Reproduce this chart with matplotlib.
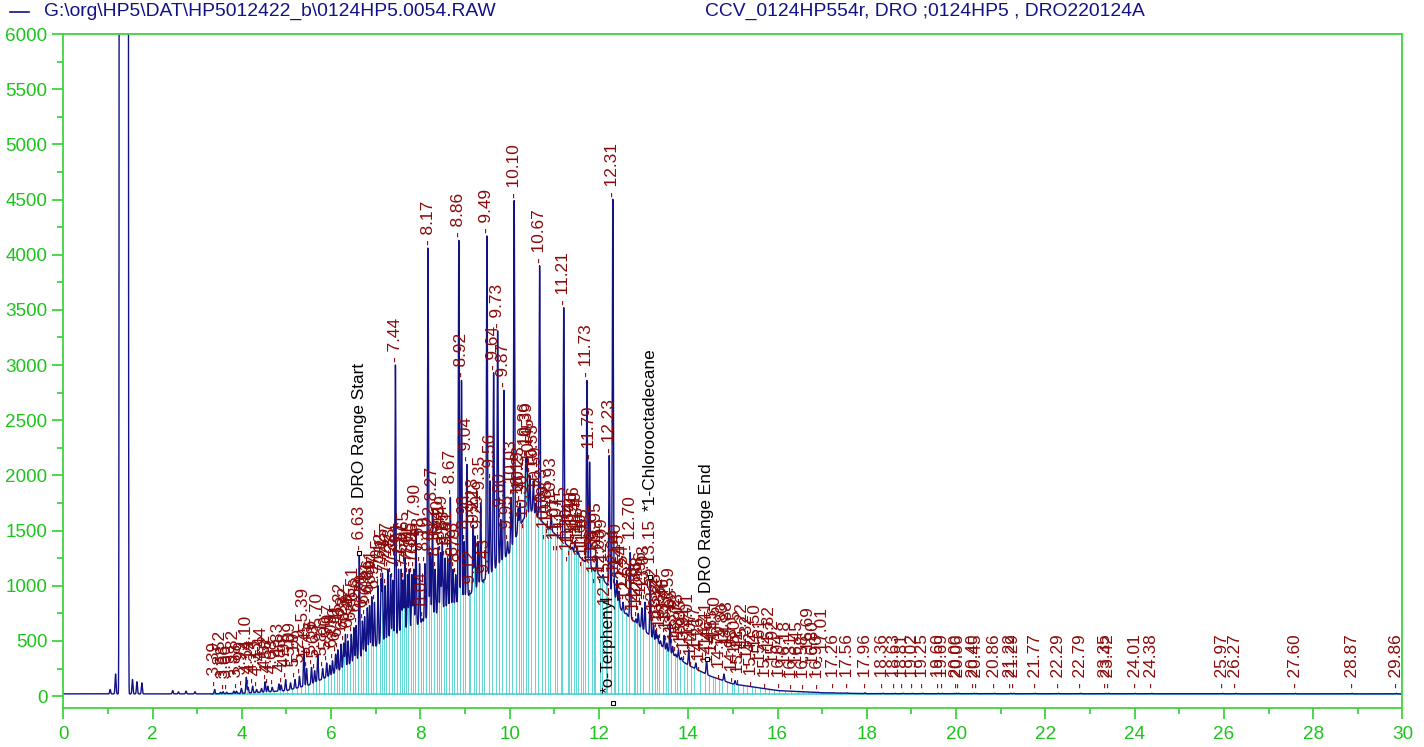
import numpy as np
import matplotlib
matplotlib.use("Agg")
import matplotlib.pyplot as plt
from matplotlib.ticker import MultipleLocator

plt.rcParams['font.family'] = ['Liberation Sans', 'DejaVu Sans']

# header texts
file_name = r"G:\org\HP5\DAT\HP5012422_b\0124HP5.0054.RAW"
sample_name = "CCV_0124HP554r, DRO ;0124HP5 , DRO220124A"

baseline_level = 20

# unresolved hump under the peaks (valley floor, absolute signal)
hump_t = [0.0, 3.3, 4.0, 5.0, 5.5, 6.0, 6.5, 7.0, 7.5, 8.0, 8.5, 9.0, 9.5, 10.0,
          10.3, 10.5, 10.8, 11.2, 11.6, 12.0, 12.3, 12.5, 13.0, 13.5, 14.0,
          14.5, 15.0, 16.0, 17.0, 18.0, 30.0]
hump_v = [20, 20, 25, 50, 100, 190, 310, 450, 560, 660, 780, 880, 1080, 1300,
          1600, 1680, 1550, 1400, 1250, 1100, 950, 780, 600, 420, 280,
          180, 110, 50, 30, 22, 20]

# solvent front, off scale
solvent_span = (1.25, 1.46)
solvent_height = 80000

# small unlabeled peaks before the integration window
early_rt = [1.05, 1.17, 1.55, 1.65, 1.76, 2.45, 2.58, 2.75, 2.95]
early_h = [60, 200, 150, 130, 120, 50, 38, 45, 40]

# integrated peaks: retention time (min) and apex height
peak_rt = [
    3.39, 3.52, 3.58, 3.66, 3.82, 3.88, 3.99, 4.10, 4.14, 4.24, 4.33, 4.44,
    4.52, 4.58, 4.68, 4.83, 4.88, 4.98, 5.09, 5.19, 5.29, 5.39, 5.45, 5.56,
    5.63, 5.70, 5.81, 5.90, 5.97, 6.03, 6.10, 6.15, 6.22, 6.28, 6.32, 6.38,
    6.45, 6.51, 6.56, 6.63, 6.70, 6.75, 6.81, 6.86, 6.91, 6.97, 7.05, 7.12,
    7.15, 7.21, 7.27, 7.33, 7.38, 7.44, 7.51, 7.57, 7.61, 7.65, 7.71, 7.75,
    7.81, 7.85, 7.90, 7.98, 8.04, 8.10, 8.17, 8.22, 8.27, 8.33, 8.40, 8.45,
    8.49, 8.55, 8.61, 8.67, 8.73, 8.79, 8.86, 8.92, 8.98, 9.04, 9.12, 9.18,
    9.22, 9.29, 9.35, 9.43, 9.49, 9.56, 9.64, 9.73, 9.80, 9.87, 9.95, 10.03,
    10.10, 10.19, 10.23, 10.30, 10.36, 10.39, 10.45, 10.53, 10.59, 10.67,
    10.73, 10.79, 10.85, 10.93, 11.01, 11.07, 11.15, 11.21, 11.30, 11.34,
    11.40, 11.46, 11.49, 11.54, 11.60, 11.65, 11.73, 11.79, 11.85, 11.89,
    11.95, 12.03, 12.09, 12.15, 12.23, 12.31, 12.34, 12.40, 12.45, 12.54,
    12.62, 12.70, 12.78, 12.83, 12.88, 12.96, 13.03, 13.15, 13.22, 13.28,
    13.32, 13.38, 13.46, 13.52, 13.59, 13.65, 13.72, 13.78, 13.85, 13.91,
    14.01, 14.07, 14.17, 14.26, 14.41, 14.46, 14.55, 14.60, 14.70, 14.80,
    14.88, 14.98, 15.05, 15.12, 15.22, 15.32, 15.42, 15.50, 15.61, 15.72,
    15.82, 15.92, 16.04, 16.18, 16.31, 16.45, 16.58, 16.69, 16.80, 16.90,
    17.01, 17.26, 17.56, 17.96, 18.36, 18.63, 18.81, 19.02, 19.25, 19.60,
    19.69, 20.00, 20.06, 20.40, 20.45, 20.86, 21.22, 21.29, 21.77, 22.29,
    22.79, 23.35, 23.42, 24.01, 24.38, 25.97, 26.27, 27.60, 28.87, 29.86,
]
peak_h = [
    60, 35, 40, 35, 45, 45, 70, 170, 80, 90, 60, 70,
    130, 90, 80, 110, 100, 150, 120, 150, 180, 430, 250, 260,
    230, 380, 250, 300, 280, 320, 380, 420, 470, 480, 560, 500,
    560, 620, 640, 1300, 680, 720, 800, 820, 900, 850, 1000, 1050,
    1100, 1000, 1150, 1100, 1050, 3000, 1150, 1150, 1050, 1250, 1100, 1150,
    1100, 1150, 1500, 1200, 700, 1200, 4060, 1300, 1650, 1150, 1350, 1300,
    1400, 1250, 1250, 1800, 1150, 1100, 4130, 2860, 1400, 2100, 900, 1550,
    1450, 1400, 1750, 1000, 4170, 1950, 2930, 3310, 1600, 2770, 1400, 1800,
    4490, 1700, 1750, 1500, 2150, 2150, 2000, 1950, 1750, 3900,
    1550, 1400, 1450, 1650, 1300, 1300, 1400, 3520, 1200, 1250,
    1350, 1400, 1350, 1300, 1150, 1200, 2860, 2120, 1100, 1000,
    1250, 1000, 1100, 700, 2180, 4500, 1000, 1050, 950, 850,
    750, 1300, 650, 700, 750, 800, 850, 1080, 650, 600,
    550, 500, 550, 480, 650, 450, 380, 420, 350, 300,
    420, 250, 300, 200, 340, 170, 150, 140, 130, 200,
    90, 100, 140, 80, 70, 90, 60, 60, 55, 50,
    50, 45, 45, 40, 40, 40, 35, 35, 35, 35,
    30, 30, 30, 30, 25, 25, 25, 25, 25, 25,
    25, 25, 25, 25, 25, 25, 25, 25, 25, 25,
    25, 25, 25, 25, 25, 25, 25, 25, 25, 25,
]

# named compounds
compound_names = ["DRO Range Start", "*1-Chlorooctadecane", "DRO Range End"]
compound_rt = [6.63, 13.15, 14.41]
surrogate_name = "*o-Terphenyl"
surrogate_rt = 12.31

NAVY = '#121287'
CYAN = '#45d0d0'
RED = '#8b0a0a'
GREEN_AX = '#3fd43f'
GREEN_TXT = '#1cc41c'
SIGMA = 0.011
LABEL_FS = 12.4

t = np.arange(0.0, 30.0005, 0.002)
hump = np.interp(t, hump_t, hump_v)
signal = hump.copy()

c = 0.5 * (solvent_span[0] + solvent_span[1])
w = 0.5 * (solvent_span[1] - solvent_span[0]) / 1.126
signal += solvent_height * np.exp(-((t - c) / w) ** 8)

for rt, h in zip(early_rt, early_h):
    signal += (h - baseline_level) * np.exp(-0.5 * ((t - rt) / SIGMA) ** 2)
for rt, h in zip(peak_rt, peak_h):
    amp = max(h - np.interp(rt, hump_t, hump_v), 0)
    signal += amp * np.exp(-0.5 * ((t - rt) / SIGMA) ** 2)

fig = plt.figure(figsize=(14.24, 7.47), dpi=100)
ax = fig.add_axes([0.04445, 0.0522, 0.94045, 0.90228])
ax.set_xlim(0, 30)
ax.set_ylim(-108, 6000)

# integration: baseline and drop lines at the valleys between peaks
ax.plot([peak_rt[0] - 0.05, 30], [baseline_level] * 2, color=CYAN, lw=1.2, zorder=1)
for a, b in zip(peak_rt[:-1], peak_rt[1:]):
    m = (t > a) & (t < b)
    if not m.any():
        continue
    i = np.argmin(signal[m])
    tv, yv = t[m][i], signal[m][i]
    ax.plot([tv, tv], [baseline_level, yv], color=CYAN, lw=0.6, zorder=1)

ax.plot(t, signal, color=NAVY, lw=1.0, zorder=2)

# retention time labels; crowded low labels are staggered in a few rows
px_per_min = 0.94045 * 1424 / 30
row_last = [-1e9, -1e9, -1e9]
for rt, h in zip(peak_rt, peak_h):
    lift = 3
    if rt < 6.6 or 14.45 < rt < 17.1:
        nrows, step = (2, 14) if rt < 6.6 else (3, 14)
        xp = rt * px_per_min
        row = 0
        for r in range(nrows):
            if xp - row_last[r] >= 11:
                row = r
                break
        row_last[row] = xp
        lift = 3 + step * row
    elif rt >= 17.1:
        lift = 5
    ax.annotate(f"- {rt:.2f}", xy=(rt, h), xytext=(0, lift), textcoords='offset pixels',
                rotation=90, ha='center', va='bottom', fontsize=LABEL_FS, color=RED,
                zorder=3, annotation_clip=False)

for name, rt in zip(compound_names, compound_rt):
    h = peak_h[peak_rt.index(rt)]
    ax.plot([rt], [h], marker='s', ms=3.5, mfc='white', mec='black', mew=0.8, zorder=4)
    lift = 55 if rt < 10 else 66
    ax.annotate(name, xy=(rt, h), xytext=(0, lift), textcoords='offset pixels',
                rotation=90, ha='center', va='bottom', fontsize=LABEL_FS, color='black',
                zorder=4, annotation_clip=False)

ax.plot([surrogate_rt], [-60], marker='s', ms=3.5, mfc='white', mec='black', mew=0.8,
        zorder=4, clip_on=False)
ax.annotate(surrogate_name, xy=(surrogate_rt, -60), xytext=(-5, 10), textcoords='offset pixels',
            rotation=90, ha='center', va='bottom', fontsize=LABEL_FS, color='black', zorder=4)

ax.xaxis.set_major_locator(MultipleLocator(2))
ax.xaxis.set_minor_locator(MultipleLocator(1))
ax.yaxis.set_major_locator(MultipleLocator(500))
ax.yaxis.set_minor_locator(MultipleLocator(250))
ax.tick_params(which='both', direction='out', color=GREEN_AX, width=1.3,
               labelcolor=GREEN_TXT, labelsize=13.6)
ax.tick_params(which='major', length=8)
ax.tick_params(which='minor', length=4)
ax.tick_params(axis='y', pad=3.5)
ax.tick_params(axis='x', pad=5)
for s in ax.spines.values():
    s.set_color(GREEN_AX)
    s.set_linewidth(1.3)

# header: legend line and file / sample description
fig.add_artist(plt.Line2D([0.007, 0.0205], [0.9845, 0.9845], color=NAVY, lw=1.2))
fig.text(0.031, 0.9845, file_name, color=NAVY, fontsize=13.9, va='center', ha='left')
fig.text(0.4948, 0.9845, sample_name, color=NAVY, fontsize=13.9, va='center', ha='left')

fig.savefig('out.png', dpi=100, facecolor='white')
